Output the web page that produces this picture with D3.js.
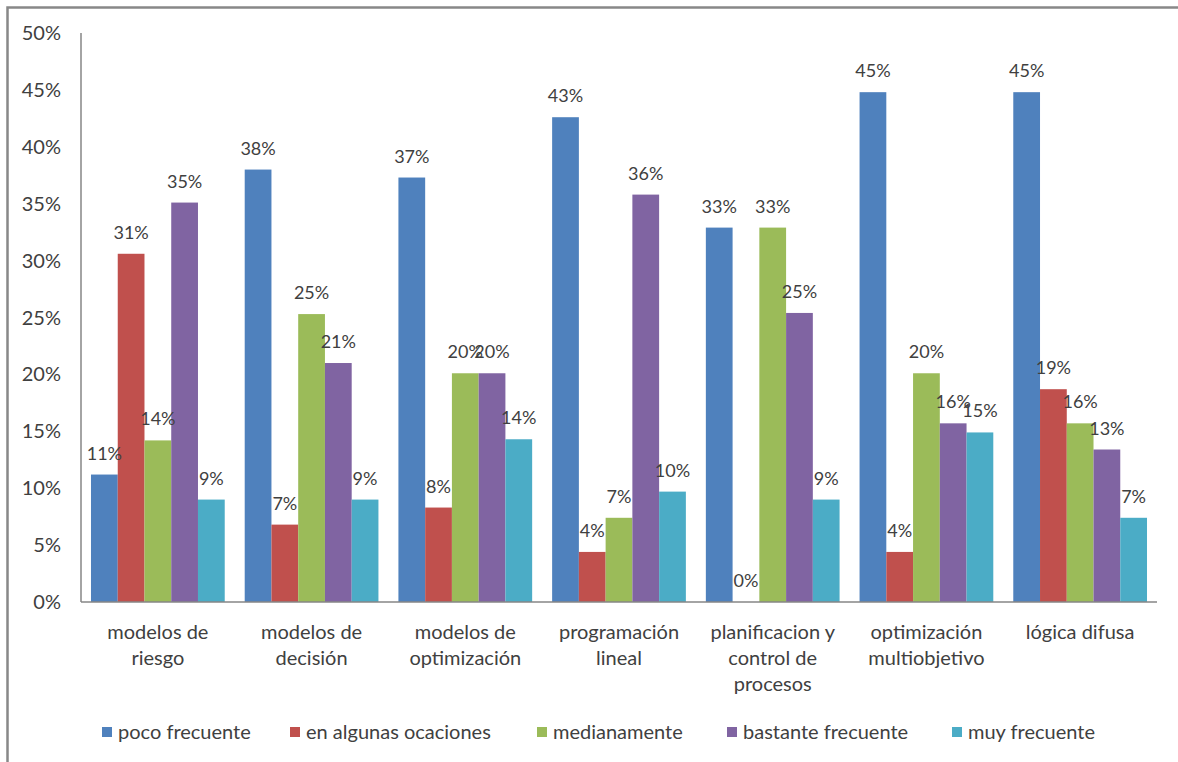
<!DOCTYPE html>
<html>
<head>
<meta charset="utf-8">
<script src="https://cdn.jsdelivr.net/npm/d3@7/dist/d3.min.js"></script>
<style>
  html, body { margin: 0; padding: 0; background: #fff; }
  svg { display: block; }
  text { font-family: Lato, "Open Sans", sans-serif; fill: #404040; }
</style>
</head>
<body>
<svg id="chart" width="1178" height="762"></svg>
<script>
const categories = [
  ["modelos de", "riesgo"],
  ["modelos de", "decisión"],
  ["modelos de", "optimización"],
  ["programación", "lineal"],
  ["planificacion y", "control de", "procesos"],
  ["optimización", "multiobjetivo"],
  ["lógica difusa"]
];
const seriesNames = ["poco frecuente", "en algunas ocaciones", "medianamente", "bastante frecuente", "muy frecuente"];
const seriesColors = ["#4F81BD", "#C0504D", "#9BBB59", "#8064A2", "#4BACC6"];
const pocoFrecuente      = [0.112, 0.380, 0.373, 0.426, 0.329, 0.448, 0.448];
const enAlgunasOcaciones = [0.306, 0.068, 0.083, 0.044, 0.000, 0.044, 0.187];
const medianamente       = [0.142, 0.253, 0.201, 0.074, 0.329, 0.201, 0.157];
const bastanteFrecuente  = [0.351, 0.210, 0.201, 0.358, 0.254, 0.157, 0.134];
const muyFrecuente       = [0.090, 0.090, 0.143, 0.097, 0.090, 0.149, 0.074];
const yTicks = [0, 0.05, 0.10, 0.15, 0.20, 0.25, 0.30, 0.35, 0.40, 0.45, 0.50];

const seriesValues = [pocoFrecuente, enAlgunasOcaciones, medianamente, bastanteFrecuente, muyFrecuente];

const svg = d3.select("#chart");
const plotLeft = 81, plotRight = 1157, plotTop = 33, plotBottom = 602;

// outer frame (top and left edges visible)
svg.append("rect")
  .attr("x", 7.5).attr("y", 7.5)
  .attr("width", 1300).attr("height", 900)
  .attr("fill", "none").attr("stroke", "#888").attr("stroke-width", 2.5);

const x0 = d3.scaleBand()
  .domain(d3.range(categories.length))
  .range([plotLeft, plotRight])
  .paddingInner(0.13).paddingOuter(0.065);
const x1 = d3.scaleBand()
  .domain(d3.range(seriesNames.length))
  .range([0, x0.bandwidth()]);
const y = d3.scaleLinear().domain([0, 0.5]).range([plotBottom, plotTop]);

// y tick labels
svg.append("g").selectAll("text").data(yTicks).join("text")
  .attr("x", 61).attr("y", d => y(d)).attr("dy", "0.35em")
  .attr("text-anchor", "end").style("font-size", "20px")
  .text(d => d3.format(".0%")(d));

// bars
const groups = svg.append("g").selectAll("g").data(categories).join("g")
  .attr("transform", (d, i) => `translate(${x0(i)},0)`);

groups.selectAll("rect").data((d, i) => seriesValues.map((s, k) => ({k, v: s[i]})))
  .join("rect")
  .attr("x", d => x1(d.k)).attr("width", x1.bandwidth())
  .attr("y", d => y(d.v)).attr("height", d => plotBottom - y(d.v))
  .attr("fill", d => seriesColors[d.k]);

groups.selectAll("text.lbl").data((d, i) => seriesValues.map((s, k) => ({k, v: s[i]})))
  .join("text").attr("class", "lbl")
  .attr("x", d => x1(d.k) + x1.bandwidth() / 2)
  .attr("y", d => y(d.v) - 15)
  .attr("text-anchor", "middle").style("font-size", "18px")
  .text(d => d3.format(".0%")(d.v));

// axes lines
svg.append("line").attr("x1", plotLeft).attr("x2", plotLeft).attr("y1", plotTop).attr("y2", plotBottom)
  .attr("stroke", "#868686").attr("stroke-width", 1.5);
svg.append("line").attr("x1", plotLeft).attr("x2", plotRight).attr("y1", plotBottom).attr("y2", plotBottom)
  .attr("stroke", "#868686").attr("stroke-width", 1.5);

// category labels
const cat = svg.append("g").selectAll("text").data(categories).join("text")
  .attr("text-anchor", "middle").style("font-size", "20px")
  .attr("transform", (d, i) => `translate(${x0(i) + x0.bandwidth() / 2},0)`);
cat.selectAll("tspan").data(d => d).join("tspan")
  .attr("x", 0).attr("y", (d, j) => 639 + j * 26)
  .text(d => d);

// legend
const legendX = [102, 290, 537, 727, 952];
const lg = svg.append("g").selectAll("g").data(seriesNames).join("g")
  .attr("transform", (d, i) => `translate(${legendX[i]},732)`);
lg.append("rect").attr("x", 0).attr("y", -5).attr("width", 10).attr("height", 10)
  .attr("fill", (d, i) => seriesColors[i]);
lg.append("text").attr("x", 16).attr("y", 0).attr("dy", "0.35em")
  .style("font-size", "20px").text(d => d);
</script>
</body>
</html>
